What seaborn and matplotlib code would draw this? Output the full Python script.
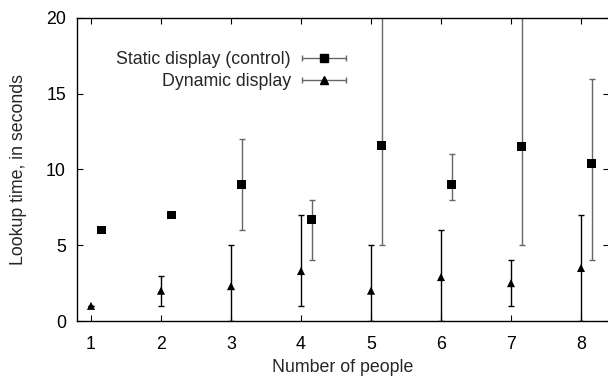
import matplotlib
matplotlib.use('Agg')
import matplotlib.pyplot as plt
from matplotlib.legend_handler import HandlerErrorbar
import seaborn as sns
import pandas as pd
import numpy as np

people = [1, 2, 3, 4, 5, 6, 7, 8]

static_mean = [6.0, 7.0, 9.0, 6.7, 11.6, 9.0, 11.5, 10.4]
static_low = [6.0, 7.0, 6.0, 4.0, 5.0, 8.0, 5.0, 4.0]
static_high = [6.0, 7.0, 12.0, 8.0, 25.0, 11.0, 25.0, 16.0]

dynamic_mean = [1.0, 2.0, 2.3, 3.3, 2.0, 2.9, 2.5, 3.5]
dynamic_low = [1.0, 1.0, 0.0, 1.0, 0.0, 0.0, 1.0, 0.0]
dynamic_high = [1.0, 3.0, 5.0, 7.0, 5.0, 6.0, 4.0, 7.0]

static_offset = 0.15


def main():
    sns.set_style('ticks')
    plt.rcParams['font.family'] = ['Liberation Sans', 'DejaVu Sans']
    fs = 12.8

    fig = plt.figure(figsize=(6.08, 3.81), dpi=100)
    ax = fig.add_axes([77 / 608, 1 - 321 / 381, 532 / 608, 303 / 381])

    df_s = pd.DataFrame({'x': np.array(people) + static_offset, 'y': static_mean,
                         'lo': static_low, 'hi': static_high})
    df_d = pd.DataFrame({'x': people, 'y': dynamic_mean,
                         'lo': dynamic_low, 'hi': dynamic_high})

    # error bars
    eb = ax.errorbar(df_s['x'], df_s['y'], yerr=[df_s['y'] - df_s['lo'], df_s['hi'] - df_s['y']],
                     fmt='none', ecolor='#666666', elinewidth=1, capsize=2.5, capthick=1, zorder=2)
    for c in eb[1]:
        c.set_color('#222222')
    ax.errorbar(df_d['x'], df_d['y'], yerr=[df_d['y'] - df_d['lo'], df_d['hi'] - df_d['y']],
                fmt='none', ecolor='black', elinewidth=1, capsize=2.5, capthick=1, zorder=2)

    sns.scatterplot(x='x', y='y', data=df_s, marker='s', color='black', s=40,
                    edgecolor='none', ax=ax, zorder=3, legend=False)
    sns.scatterplot(x='x', y='y', data=df_d, marker='^', color='black', s=34,
                    edgecolor='none', ax=ax, zorder=3, legend=False)

    # legend samples with horizontal bars like the original (nan = not drawn)
    h1 = ax.errorbar([np.nan], [np.nan], xerr=[np.nan], fmt='s', color='black', ecolor='#666666',
                     markersize=6, elinewidth=1, capsize=2.5, capthick=1)
    h2 = ax.errorbar([np.nan], [np.nan], xerr=[np.nan], fmt='^', color='black', ecolor='#666666',
                     markersize=6, elinewidth=1, capsize=2.5, capthick=1)
    for h in (h1, h2):
        for c in h[1]:
            c.set_color('#222222')
    hl = 2.5
    ax.legend([h1, h2], ['Static display (control)', 'Dynamic display'],
              handler_map={type(h1): HandlerErrorbar(xerr_size=hl / 2)},
              loc='upper right', bbox_to_anchor=(0.506, 0.89), frameon=False,
              markerfirst=False, handlelength=hl, handletextpad=0.6, numpoints=1,
              borderpad=0, borderaxespad=0, labelspacing=0.25, fontsize=fs)

    ax.set_xlim(0.8, 8.4)
    ax.set_ylim(0, 20)
    ax.set_xticks(people)
    ax.set_yticks([0, 5, 10, 15, 20])
    ax.tick_params(direction='in', length=4, width=0.8, top=True, right=True,
                   labelsize=fs, colors='black')
    ax.tick_params(axis='x', pad=11)
    ax.tick_params(axis='y', pad=8)
    ax.set_xlabel('Number of people', fontsize=fs, labelpad=4)
    ax.set_ylabel('Lookup time, in seconds', fontsize=fs, labelpad=14)
    for s in ax.spines.values():
        s.set_linewidth(1)
        s.set_color('black')

    fig.savefig('out.png', dpi=100)


if __name__ == '__main__':
    main()
